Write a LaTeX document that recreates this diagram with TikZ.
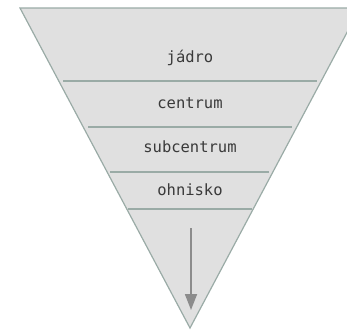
\documentclass[tikz,border=0pt]{standalone}
\usepackage{fontspec}
\setmonofont{DejaVu Sans Mono}
\usetikzlibrary{arrows.meta, positioning}
\definecolor{funnelfill}{HTML}{E0E0E0}
\definecolor{funneledge}{HTML}{9AABA6}
\definecolor{labeltext}{HTML}{3A3A3A}
\definecolor{flowgray}{HTML}{8C8C8C}

\begin{document}
\begin{tikzpicture}[
    x=1pt, y=-1pt,
    level/.style={
        font=\ttfamily\fontsize{15.5}{18}\selectfont,
        text=labeltext, inner sep=0pt, anchor=mid
    },
    divider/.style={draw=funneledge, line width=2.4pt},
    arrow/.style={-{Triangle[length=16pt, width=12pt]}, draw=flowgray, line width=1.8pt}
]
\useasboundingbox (0,0) rectangle (347,330);

% Funnel (cut off at the right edge)
\begin{scope}
\clip (0,0) rectangle (347,330);
\draw[fill=funnelfill, draw=funneledge, line width=1.2pt]
    (20,8) -- (360,8) -- (190,328) -- cycle;
\end{scope}

% Levels
\node[level] (jadro) at (190,60) {jádro};
\node[level] (centrum) at (190,106) {centrum};
\node[level] (subcentrum) at (190,150) {subcentrum};
\node[level] (ohnisko) at (190,193) {ohnisko};

% Dividers
\draw[divider] (63,81) -- (317,81);
\draw[divider] (88,127) -- (292,127);
\draw[divider] (110,172) -- (269,172);
\draw[divider] (128,209) -- (252,209);

% Flow
\coordinate (flowtop) at (191,228);
\coordinate (flowtip) at (191,310);
\draw[arrow] (flowtop) -- (flowtip);

\end{tikzpicture}
\end{document}
